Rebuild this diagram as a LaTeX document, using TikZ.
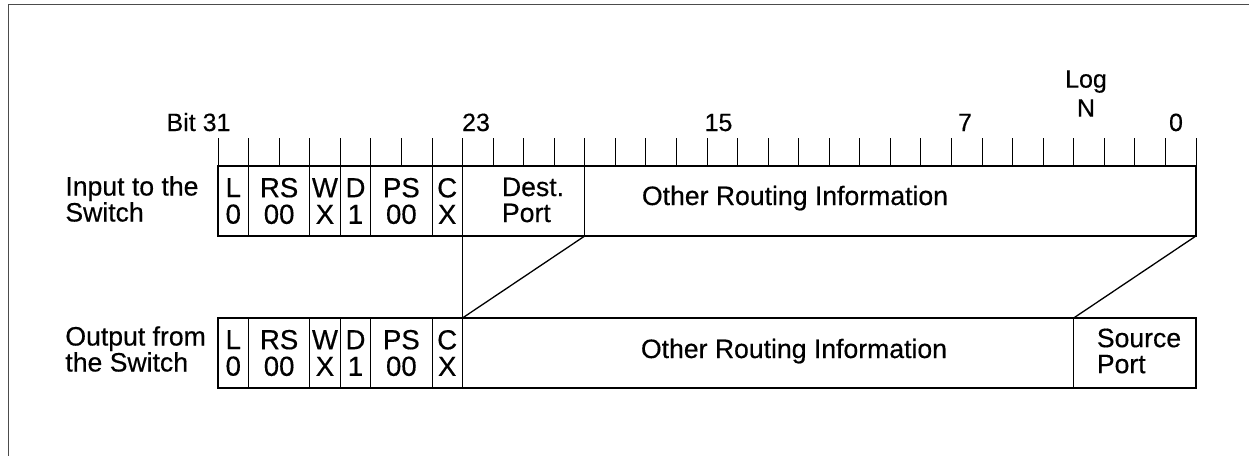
\documentclass[tikz,border=0pt]{standalone}
\usepackage{fontspec}
\newfontfamily\dgfont{Liberation Sans}[FakeBold=0.4]
\newcommand\dgsize{\dgfont\fontsize{13.3pt}{13pt}\selectfont}
\newcommand\dgfld{\dgfont\fontsize{13.8pt}{13.3pt}\selectfont}
\newcommand\dgnum{\dgfont\fontsize{12.5pt}{13pt}\selectfont}
\begin{document}
\begin{tikzpicture}[x=0.5pt,y=-0.5pt,
  field/.style={draw, line width=0.4pt, rectangle, inner sep=0pt, outer sep=0pt,
    minimum height=35pt, anchor=north west, align=center, font=\dgfld},
  fld/.style={field, minimum width=#1*15.28pt},
  lbl/.style={inner sep=0pt, font=\dgsize},
  num/.style={inner sep=0pt, font=\dgnum, anchor=base},
  tick/.style={line width=0.4pt},
  outline/.style={line width=1pt},
  link/.style={line width=0.65pt},
  frame/.style={line width=0.5pt, black!70}]
\useasboundingbox (0,0) rectangle (1249,456);
% frame (top and left edges)
\draw[frame] (1249,4) -- (8,4) -- (8,456);
% bit ticks
\foreach \i in {0,...,32}
  \draw[tick] ({218+\i*30.56},138) -- ({218+\i*30.56},166);
% bit numbers
\node[num] (b31) at (198.5,131) {Bit 31};
\node[num] (b23) at (476,131) {23};
\node[num] (b15) at (718.5,131) {15};
\node[num] (b7) at (965,131) {7};
\node[num] (b0) at (1176,131) {0};
\node[lbl, font=\dgnum, anchor=south, align=center] (logn) at (1086,117) {Log\\[1.5pt]N};
% row labels
\node[lbl, anchor=west, align=left] (inlbl) at (65,199) {Input to the\\Switch};
\node[lbl, anchor=west, align=left] (outlbl) at (65,349) {Output from\\the Switch};
% upper row
\node[fld=1] (uL) at (218,166) {L\\0};
\node[fld=2] (uRS) at (uL.north east) {RS\\00};
\node[fld=1] (uW) at (uRS.north east) {W\\X};
\node[fld=1] (uD) at (uW.north east) {D\\1};
\node[fld=2] (uPS) at (uD.north east) {PS\\00};
\node[fld=1] (uC) at (uPS.north east) {C\\X};
\node[fld=4] (uDest) at (uC.north east) {};
\node[fld=20] (uO) at (uDest.north east) {};
\draw[outline] (uL.north west) rectangle (uO.south east);
\node[lbl, align=left] (tDest) at (533,200) {Dest.\\Port};
\node[lbl, anchor=base] (tuO) at (795,205) {Other Routing Information};
% lower row
\node[fld=1] (lL) at (218,318) {L\\0};
\node[fld=2] (lRS) at (lL.north east) {RS\\00};
\node[fld=1] (lW) at (lRS.north east) {W\\X};
\node[fld=1] (lD) at (lW.north east) {D\\1};
\node[fld=2] (lPS) at (lD.north east) {PS\\00};
\node[fld=1] (lC) at (lPS.north east) {C\\X};
\node[fld=20] (lO) at (lC.north east) {};
\node[fld=4] (lSrc) at (lO.north east) {};
\draw[outline] (lL.north west) rectangle (lSrc.south east);
\node[lbl, anchor=base] (tlO) at (794,358) {Other Routing Information};
\node[lbl, align=left] (tSrc) at (1139,351) {Source\\Port};
% connectors
\draw[tick] (uC.south east) -- (lO.north west);
\draw[link] (uDest.south east) -- (lC.north east);
\draw[link] (uO.south east) -- (lSrc.north west);
\end{tikzpicture}
\end{document}
